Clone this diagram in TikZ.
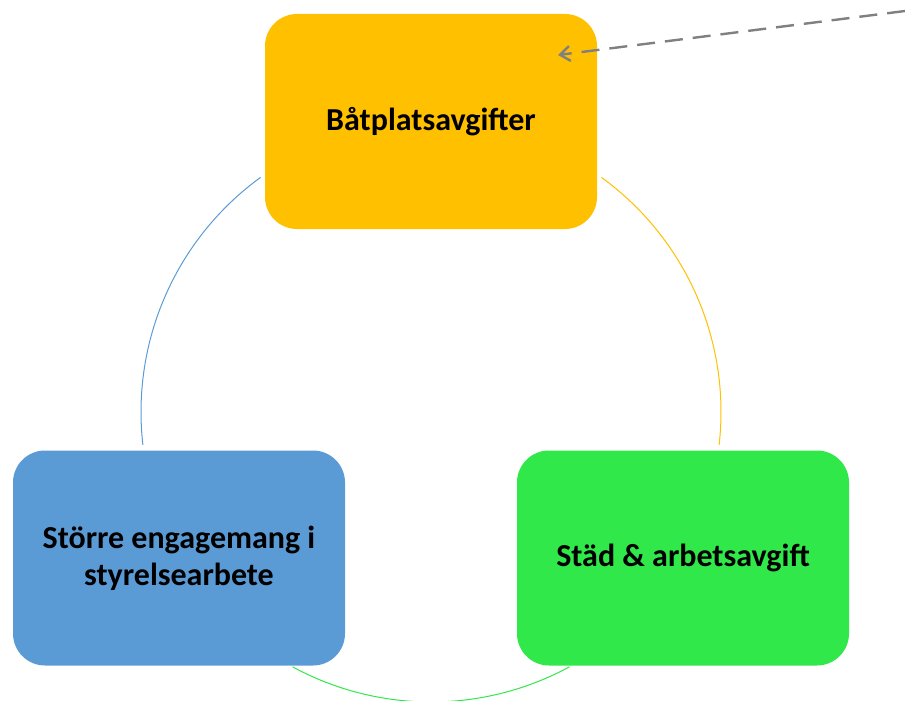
\documentclass[tikz,border=0pt]{standalone}
\usepackage{fontspec}
\setmainfont{Carlito}
\usetikzlibrary{arrows.meta}
\definecolor{cgold}{HTML}{FFC000}
\definecolor{cblue}{HTML}{5B9BD5}
\definecolor{cgreen}{HTML}{30E84A}
\definecolor{cgray}{HTML}{808080}
\begin{document}
\begin{tikzpicture}[x=1pt,y=-1pt,
  boxstyle/.style={rounded corners=32pt, minimum width=332pt, minimum height=215pt,
    inner sep=0pt, align=center, font=\fontsize{32}{37}\selectfont\bfseries, text=black},
  arcstyle/.style={line width=1pt}]
\useasboundingbox (0,0) rectangle (905,701);
\coordinate (c) at (431,412);
\node[boxstyle, fill=cgold] (top) at (431,121.5) {Båtplatsavgifter};
\node[boxstyle, fill=cblue] (left) at (179,558) {Större engagemang i\\styrelsearbete};
\node[boxstyle, fill=cgreen] (right) at (683,558) {Städ \& arbetsavgift};
% arcs (y axis flipped, so angles are negated)
\draw[arcstyle, cblue] (c) ++(-126:290) arc[start angle=-126, end angle=-186.5, radius=290];
\draw[arcstyle, cgold] (c) ++(-54:290) arc[start angle=-54, end angle=6.5, radius=290];
\draw[arcstyle, cgreen] (c) ++(118.5:290) arc[start angle=118.5, end angle=61.5, radius=290];
% dashed arrow
\coordinate (src) at (905,11);
\coordinate (tip) at (558,55);
\draw[cgray, line width=2.4pt, dash pattern=on 18pt off 10pt, -{Straight Barb[length=10pt,width=15pt,line width=2.4pt]}] (src) -- (tip);
\end{tikzpicture}
\end{document}
